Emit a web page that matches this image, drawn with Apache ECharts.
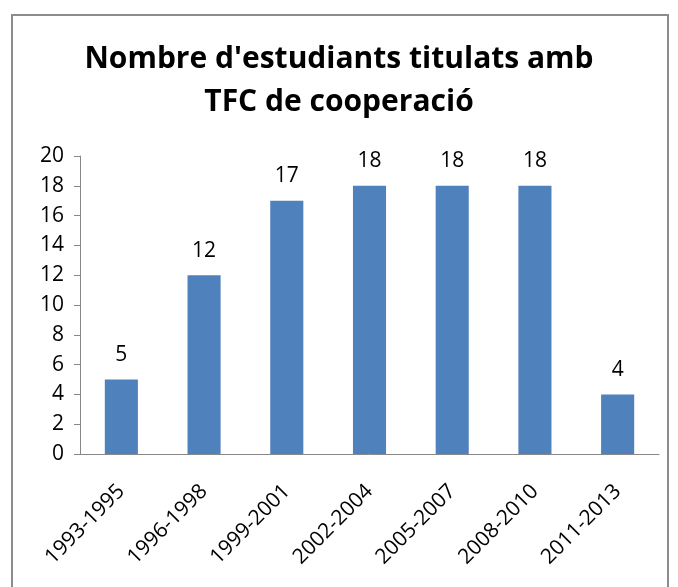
<!DOCTYPE html>
<html>
<head>
<meta charset="utf-8">
<script src="https://cdn.jsdelivr.net/npm/echarts@6/dist/echarts.min.js"></script>
<style>
    html, body {margin: 0; padding: 0; background: #fff;}
    #main {width: 678px; height: 587px;}
</style>
</head>
<body>
<div id="main"></div>
<script>
// dades
var periodes = ['1993-1995', '1996-1998', '1999-2001', '2002-2004', '2005-2007', '2008-2010', '2011-2013'];
var titulats = [5, 12, 17, 18, 18, 18, 4];
var titol = "Nombre d'estudiants titulats amb\nTFC de cooperació";

var myChart = echarts.init(document.getElementById('main'));
var option = {
    animation: false,
    textStyle: {fontFamily: 'Open Sans'},
    graphic: [{
        type: 'rect',
        shape: {x: 12, y: 15, width: 656, height: 585},
        style: {fill: 'none', stroke: '#8c8c8c', lineWidth: 2}
    }],
    title: {
        text: titol,
        left: 'center',
        top: 33,
        textStyle: {
            color: '#000',
            fontSize: 30,
            fontWeight: 'bold',
            lineHeight: 43,
            fontFamily: 'Open Sans'
        }
    },
    grid: {left: 80, right: 19, top: 156, bottom: 133},
    xAxis: {
        type: 'category',
        data: periodes,
        axisLine: {lineStyle: {color: '#888', width: 1}},
        axisTick: {length: 7, lineStyle: {color: '#888'}},
        axisLabel: {
            rotate: 45,
            color: '#000',
            fontSize: 21,
            margin: 34
        }
    },
    yAxis: {
        type: 'value',
        min: 0,
        max: 20,
        interval: 2,
        splitLine: {show: false},
        axisLine: {show: true, lineStyle: {color: '#888', width: 1}},
        axisTick: {show: true, length: 6, lineStyle: {color: '#888'}},
        axisLabel: {color: '#000', fontSize: 21, margin: 16}
    },
    series: [{
        type: 'bar',
        data: titulats,
        barWidth: '40%',
        itemStyle: {color: '#4f81bd'},
        label: {
            show: true,
            position: 'top',
            distance: 14,
            color: '#000',
            fontSize: 21
        }
    }]
};
myChart.setOption(option);
</script>
</body>
</html>
